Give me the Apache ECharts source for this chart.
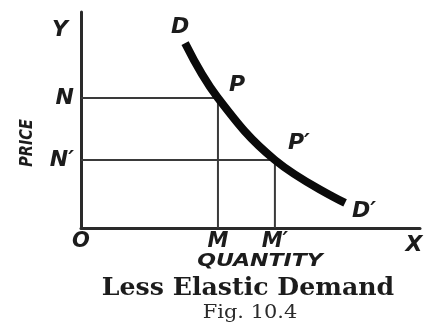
<!DOCTYPE html>
<html>
<head>
<meta charset="utf-8">
<script src="https://cdn.jsdelivr.net/npm/echarts@6/dist/echarts.min.js"></script>
<style>
  html, body { margin: 0; padding: 0; background: #fff; }
  #chart { width: 425px; height: 327px; }
</style>
</head>
<body>
<div id="chart"></div>
<script>
// demand curve D -> P -> P' -> D' (quantity on x, price on y, arbitrary units 0..10)
const quantity = [3.07, 4.04, 5.72, 7.79]
const price = [8.56, 6.02, 3.15, 1.16]
const pointNames = ['D', 'P', 'P\u2032', 'D\u2032']

// the two points that are projected onto the axes
const projected = [1, 2]
const priceTickNames = ['N', 'N\u2032']
const quantityTickNames = ['M', 'M\u2032']

const labelFont = 'DejaVu Sans'
const ink = '#1c1c1c'

const chart = echarts.init(document.getElementById('chart'))

const priceTicks = projected.map(i => price[i])
const quantityTicks = projected.map(i => quantity[i])

// guide lines N-P-M and N'-P'-M'
const guides = projected.map((i, k) => ({
  name: 'guide' + k,
  type: 'line',
  symbol: 'none',
  silent: true,
  lineStyle: { color: '#3a3a3a', width: 2 },
  data: [[0, price[i]], [quantity[i], price[i]], [quantity[i], 0]],
  z: 1
}))

const labelPos = {
  'D': { position: 'top', offset: [-5, 0] },
  'P': { position: 'right', offset: [6, -13] },
  'P\u2032': { position: 'right', offset: [8, -17] },
  'D\u2032': { position: 'right', offset: [2, 8] }
}

const option = {
  animation: false,
  grid: { left: 81, right: 5, top: 12, bottom: 99, outerBoundsMode: 'none' },
  xAxis: {
    type: 'value',
    min: 0,
    max: 10,
    splitLine: { show: false },
    axisTick: { show: false },
    axisLine: { onZero: false, lineStyle: { color: '#2a2a2a', width: 3 } },
    axisLabel: {
      customValues: [0].concat(quantityTicks),
      margin: 3,
      color: ink,
      fontFamily: labelFont,
      fontWeight: 'bold',
      fontStyle: 'italic',
      fontSize: 21,
      formatter: v => v === 0 ? 'O' : quantityTickNames[quantityTicks.indexOf(v)]
    }
  },
  yAxis: {
    type: 'value',
    min: 0,
    max: 10,
    splitLine: { show: false },
    axisTick: { show: false },
    axisLine: { show: true, onZero: false, lineStyle: { color: '#2a2a2a', width: 3 } },
    axisLabel: {
      customValues: priceTicks,
      margin: 7,
      color: ink,
      fontFamily: labelFont,
      fontWeight: 'bold',
      fontStyle: 'italic',
      fontSize: 22,
      formatter: v => priceTickNames[priceTicks.indexOf(v)]
    }
  },
  graphic: [
    { type: 'text', x: 60, y: 30, style: { text: 'Y', fill: ink, font: 'italic bold 22px DejaVu Sans', textAlign: 'center', textVerticalAlign: 'middle' } },
    { type: 'text', x: 414, y: 245, style: { text: 'X', fill: ink, font: 'italic bold 22px DejaVu Sans', textAlign: 'center', textVerticalAlign: 'middle' } },
    { type: 'text', x: 28, y: 143, rotation: Math.PI / 2, scaleX: 0.85, style: { text: 'PRICE', fill: ink, font: 'italic bold 17px DejaVu Sans', textAlign: 'center', textVerticalAlign: 'middle' } },
    { type: 'text', x: 260, y: 262, scaleX: 1.3, style: { text: 'QUANTITY', fill: ink, font: 'italic bold 17px DejaVu Sans', textAlign: 'center', textVerticalAlign: 'middle' } },
    { type: 'text', x: 248, y: 289, scaleX: 1.05, style: { text: 'Less Elastic Demand', fill: ink, font: 'bold 24px DejaVu Serif', textAlign: 'center', textVerticalAlign: 'middle' } },
    { type: 'text', x: 250, y: 313, scaleX: 1.1, style: { text: 'Fig. 10.4', fill: '#2a2a2a', font: '19px DejaVu Serif', textAlign: 'center', textVerticalAlign: 'middle' } }
  ],
  series: guides.concat([
    {
      name: 'demand',
      type: 'line',
      smooth: 0.4,
      symbol: 'none',
      lineStyle: { color: '#0a0a0a', width: 8, cap: 'butt' },
      data: quantity.map((q, i) => [q, price[i]]),
      z: 3
    },
    {
      name: 'labels',
      type: 'scatter',
      symbolSize: 0,
      silent: true,
      itemStyle: { opacity: 1 },
      data: quantity.map((q, i) => ({
        value: [q, price[i]],
        label: Object.assign({ show: true, formatter: pointNames[i] }, labelPos[pointNames[i]])
      })),
      label: {
        color: ink,
        fontFamily: labelFont,
        fontWeight: 'bold',
        fontStyle: 'italic',
        fontSize: 22
      },
      z: 4
    }
  ])
}

chart.setOption(option)
</script>
</body>
</html>
